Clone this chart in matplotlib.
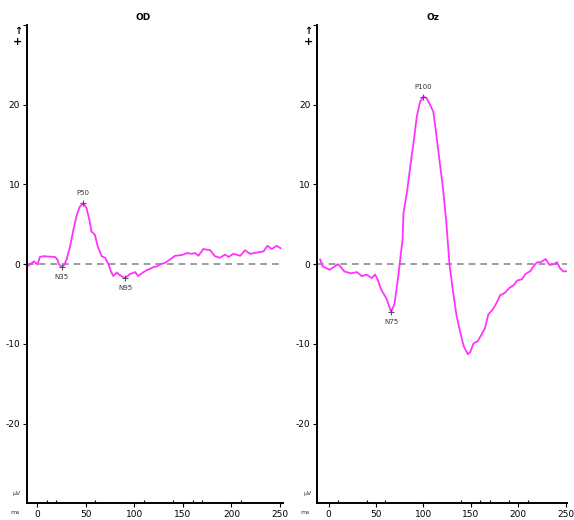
import matplotlib
matplotlib.use("Agg")
import matplotlib.pyplot as plt

plt.rcParams["axes.unicode_minus"] = False

# OD channel (ms, uV)
od_t = [-10.5, -7, -3, 0.5, 3, 6.5, 12, 18.5, 21, 22.5, 25.5, 28, 30.5, 34, 37.5, 41, 44,
        47.5, 51, 54, 56, 59.5, 62.5, 66.5, 70, 73.5, 76, 78.5, 82, 85.5, 90.5, 95.5, 101,
        104, 109.5, 113, 116, 120, 123, 127, 131.5, 137, 142, 146, 150.5, 154, 159, 162.5,
        166, 171, 178, 183, 188, 193.5, 197, 202, 209, 214, 219, 226, 233, 237, 241.5,
        246.5, 250.5]
od_v = [-0.35, 0.0, 0.35, -0.05, 0.9, 1.0, 0.95, 0.9, 0.6, 0.0, -0.35, -0.1, 0.6, 2.2, 4.35,
        6.2, 7.2, 7.65, 7.0, 5.5, 4.1, 3.7, 2.2, 1.0, 0.8, 0.0, -0.9, -1.5, -1.05, -1.4,
        -1.75, -1.25, -1.0, -1.5, -1.0, -0.75, -0.6, -0.35, -0.3, 0.0, 0.15, 0.6, 1.05, 1.1,
        1.2, 1.4, 1.3, 1.4, 1.05, 1.9, 1.75, 1.0, 0.8, 1.2, 0.9, 1.3, 1.05, 1.75, 1.3, 1.45,
        1.6, 2.3, 1.9, 2.3, 2.0]

# Oz channel (ms, uV)
oz_t = [-9, -6, 1, 5, 9.5, 12.5, 16.5, 23, 30, 35, 40, 45.5, 49, 52, 55.5, 61, 66, 69.5,
        72.5, 75, 78, 79, 83, 86.5, 90, 93, 96.5, 100, 103.5, 107, 110.5, 113.5, 117, 120.5,
        124, 127.5, 131, 135, 139, 142.5, 147, 149.5, 153, 157, 161.5, 165, 168.5, 173, 177,
        181, 186, 190.5, 195.5, 199, 204, 207.5, 213, 216, 219.5, 224.5, 229, 233, 237.5,
        241, 244, 247.5, 250.5]
oz_v = [0.6, -0.3, -0.7, -0.4, 0.0, -0.3, -0.9, -1.15, -1.0, -1.5, -1.3, -1.75, -1.3, -2.0,
        -3.2, -4.3, -6.0, -5.0, -2.4, 0.0, 3.1, 6.4, 9.3, 12.6, 15.6, 18.5, 20.4, 21.0, 20.8,
        20.0, 19.1, 16.4, 13.0, 9.7, 5.5, 0.0, -3.2, -6.5, -8.6, -10.3, -11.3, -11.0, -9.9,
        -9.7, -8.8, -8.0, -6.3, -5.7, -4.9, -3.9, -3.6, -3.0, -2.6, -2.05, -1.9, -1.25,
        -0.85, -0.3, 0.2, 0.3, 0.65, -0.1, 0.0, 0.25, -0.5, -0.9, -0.9]

# peak markers: (label, ms, uV, text offset)
od_peaks = [("N35", 25.5, -0.35, -0.9), ("P50", 47.5, 7.65, 0.9), ("N95", 90.5, -1.75, -0.9)]
oz_peaks = [("N75", 66, -6.0, -0.9), ("P100", 100, 21.0, 0.9)]

yticks = [-20, -10, 0, 10, 20]
xticks = [0, 50, 100, 150, 200, 250]
od_minor = [10, 20, 60, 110, 140, 160, 170, 210]
oz_minor = [10, 40, 60, 140, 160, 170, 190, 210]

fig = plt.figure(figsize=(5.74, 5.2), dpi=100)

panels = [
    ("OD", [0.047, 0.032, 0.446, 0.92], (-10.3, 253), od_t, od_v, od_peaks, od_minor, 0.249),
    ("Oz", [0.553, 0.032, 0.434, 0.92], (-11.8, 251), oz_t, oz_v, oz_peaks, oz_minor, 0.754),
]

for name, rect, xlim, t, v, peaks, minor, title_x in panels:
    ax = fig.add_axes(rect)
    ax.axhline(0, color="#8c8c8c", lw=1.2, dashes=(4, 3))
    ax.plot(t, v, color="#ff33ff", lw=1.3)
    for lab, px, py, off in peaks:
        ax.plot(px, py, marker="+", color="#555555", ms=4, mew=0.8)
        ax.text(px, py + off, lab, fontsize=5, color="#333333", ha="center",
                va="bottom" if off > 0 else "top")
    ax.set_xlim(*xlim)
    ax.set_ylim(-30, 30)
    for s in ["top", "right"]:
        ax.spines[s].set_visible(False)
    for s in ["left", "bottom"]:
        ax.spines[s].set_linewidth(1.4)
    ax.set_xticks(xticks)
    ax.set_yticks(yticks)
    ax.set_xticks(minor, minor=True)
    ax.set_yticks([30], minor=True)
    ax.tick_params(which="major", length=3, width=0.8, labelsize=6.5, pad=2)
    ax.tick_params(axis="x", which="minor", length=2, width=0.8, direction="in")
    ax.tick_params(axis="y", which="minor", length=3, width=0.8)
    fig.text(title_x, 0.967, name, fontsize=6.5, fontweight="bold", ha="center", va="center")
    x0 = rect[0] * 574
    fig.text((x0 - 9) / 574, 1 - 31 / 520, "↑", fontsize=7, fontweight="bold", ha="center", va="center")
    fig.text((x0 - 9) / 574, 1 - 42 / 520, "+", fontsize=8, fontweight="bold", ha="center", va="center")
    fig.text((x0 - 10) / 574, 1 - 493 / 520, "µV", fontsize=4.5, color="#333333", ha="center", va="center")
    fig.text((x0 - 12) / 574, 1 - 512 / 520, "ms", fontsize=4.5, color="#333333", ha="center", va="center")

fig.savefig("out.png", dpi=100)
